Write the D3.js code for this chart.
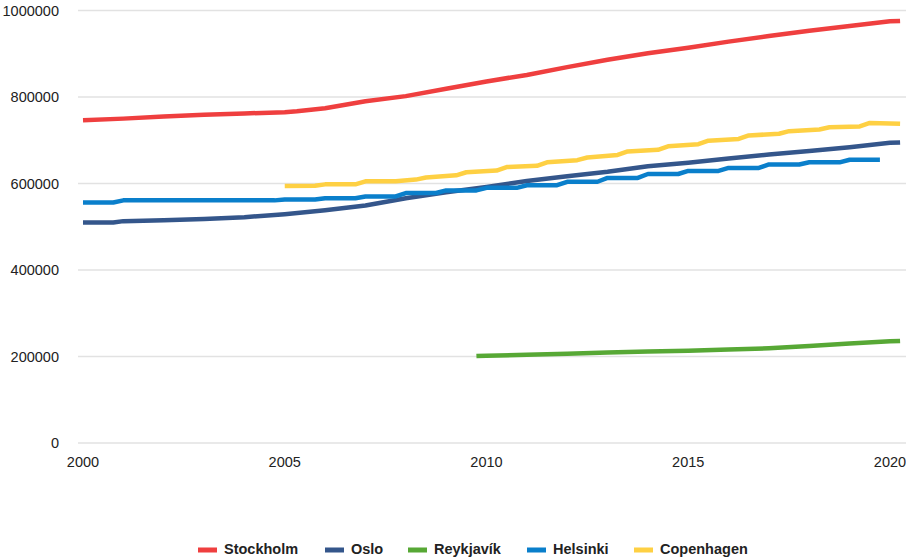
<!DOCTYPE html>
<html>
<head>
<meta charset="utf-8">
<script src="https://cdn.jsdelivr.net/npm/d3@7"></script>
<style>
  body { margin: 0; background: #fff; }
  svg { font-family: "Liberation Sans", Arial, sans-serif; }
</style>
</head>
<body>
<svg width="906" height="560"></svg>
<script>
// population by city, [year, inhabitants]
const stockholm = [
  [2000, 746000], [2001, 750000], [2002, 755000], [2003, 759000], [2004, 762000],
  [2005, 765000], [2005.3, 767000], [2006, 774000], [2007, 790000], [2008, 802000],
  [2009, 819000], [2010, 836000], [2011, 851000], [2012, 869000], [2013, 886000],
  [2014, 901000], [2015, 914000], [2016, 928000], [2017, 941000], [2018, 953000],
  [2019, 964000], [2020, 975000], [2020.25, 976000]
];
const oslo = [
  [2000, 510000], [2000.75, 510000], [2001, 513000], [2002, 515000], [2003, 518000],
  [2004, 522000], [2005, 529000], [2006, 538000], [2007, 549000], [2008, 566000],
  [2009, 580000], [2010, 592000], [2011, 606000], [2012, 617000], [2013, 627000],
  [2014, 640000], [2015, 648000], [2016, 658000], [2017, 667000], [2018, 675000],
  [2019, 684000], [2020, 694000], [2020.25, 695000]
];
const reykjavik = [
  [2009.75, 201000], [2010, 202000], [2011, 204000], [2012, 206500], [2013, 209000],
  [2014, 211500], [2015, 213500], [2016, 216000], [2017, 219000], [2018, 224000],
  [2019, 230000], [2020, 235000], [2020.25, 236000]
];
const helsinki = [
  [2000, 556000], [2000.75, 556000], [2001, 561000], [2001.75, 561000],
  [2002, 561000], [2002.75, 561000], [2003, 561000], [2003.75, 561000],
  [2004, 561000], [2004.75, 561000], [2005, 563000], [2005.75, 563000],
  [2006, 566000], [2006.75, 566000], [2007, 570000], [2007.75, 570000],
  [2008, 578000], [2008.75, 578000], [2009, 584000], [2009.75, 584000],
  [2010, 590000], [2010.75, 590000], [2011, 596000], [2011.75, 596000],
  [2012, 604000], [2012.75, 604000], [2013, 613000], [2013.75, 613000],
  [2014, 622000], [2014.75, 622000], [2015, 629000], [2015.75, 629000],
  [2016, 636000], [2016.75, 636000], [2017, 644000], [2017.75, 644000],
  [2018, 649000], [2018.75, 649000], [2019, 655000], [2019.75, 655000]
];
const copenhagen = [
  [2005, 594000], [2005.75, 595000], [2006, 598000], [2006.75, 598000],
  [2007, 605000], [2007.75, 605000], [2008.25, 609000], [2008.5, 614000],
  [2009.25, 619000], [2009.5, 626000], [2010.25, 630000], [2010.5, 638000],
  [2011.25, 641000], [2011.5, 649000], [2012.25, 654000], [2012.5, 660000],
  [2013.25, 666000], [2013.5, 674000], [2014.25, 678000], [2014.5, 686000],
  [2015.25, 691000], [2015.5, 699000], [2016.25, 703000], [2016.5, 711000],
  [2017.25, 715000], [2017.5, 721000], [2018.25, 725000], [2018.5, 730000],
  [2019.25, 732000], [2019.5, 740000], [2020.25, 738000]
];

const cityNames = ["Stockholm", "Oslo", "Reykjavík", "Helsinki", "Copenhagen"];
const cityColors = ["#ef3f3f", "#34568b", "#57a835", "#0a7fcb", "#fed043"];
const yearTicks = [2000, 2005, 2010, 2015, 2020];
const valueTicks = [0, 200000, 400000, 600000, 800000, 1000000];

const series = [stockholm, oslo, reykjavik, helsinki, copenhagen];

const svg = d3.select("svg");

const xScale = d3.scaleLinear().domain([2000, 2020]).range([83, 890]);
const yScale = d3.scaleLinear().domain([0, 1000000]).range([443, 10.5]);

// horizontal gridlines + value labels
const grid = svg.append("g");
grid.selectAll("line").data(valueTicks)
  .enter().append("line")
  .attr("x1", 78).attr("x2", 906)
  .attr("y1", d => yScale(d)).attr("y2", d => yScale(d))
  .attr("stroke", "#e2e2e2")
  .attr("stroke-width", 1.5);

grid.selectAll("text").data(valueTicks)
  .enter().append("text")
  .attr("x", 59)
  .attr("y", d => yScale(d) + 1.5)
  .attr("text-anchor", "end")
  .attr("dominant-baseline", "middle")
  .attr("font-size", "14.5px")
  .attr("fill", "#222")
  .text(d => d);

// year labels
svg.append("g").selectAll("text").data(yearTicks)
  .enter().append("text")
  .attr("x", d => xScale(d))
  .attr("y", 463)
  .attr("text-anchor", "middle")
  .attr("dominant-baseline", "middle")
  .attr("font-size", "14.5px")
  .attr("fill", "#222")
  .text(d => d);

// city lines
const line = d3.line()
  .x(d => xScale(d[0]))
  .y(d => yScale(d[1]));

svg.append("g").selectAll("path").data(series)
  .enter().append("path")
  .attr("d", line)
  .attr("fill", "none")
  .attr("stroke", (d, i) => cityColors[i])
  .attr("stroke-width", 4.5)
  .attr("stroke-linejoin", "round");

// legend
const legendX = [198, 325, 408, 527, 634];
const legend = svg.append("g");
const item = legend.selectAll("g").data(cityNames)
  .enter().append("g")
  .attr("transform", (d, i) => `translate(${legendX[i]}, 550)`);

item.append("rect")
  .attr("x", 0).attr("y", -2.5)
  .attr("width", 19).attr("height", 5)
  .attr("fill", (d, i) => cityColors[i]);

item.append("text")
  .attr("x", 26)
  .attr("y", 0)
  .attr("dominant-baseline", "middle")
  .attr("font-size", "14.5px")
  .attr("font-weight", "bold")
  .attr("fill", "#222")
  .text(d => d);
</script>
</body>
</html>
